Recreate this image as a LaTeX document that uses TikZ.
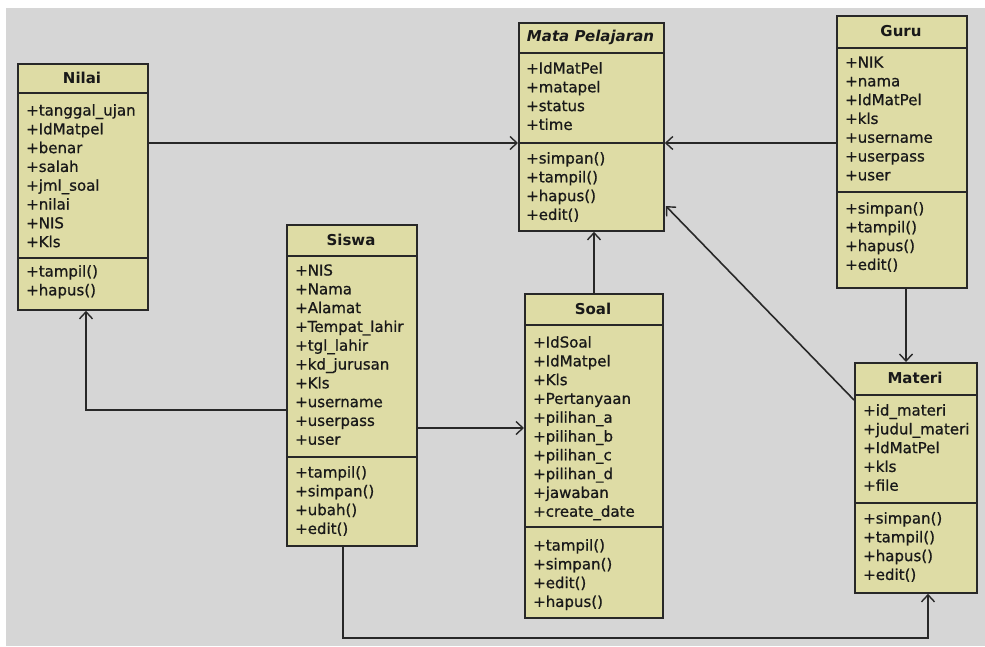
\documentclass[tikz,border=0pt]{standalone}
\usepackage{fontspec}
\setmainfont{DejaVu Sans}
\newfontfamily\memberfont{DejaVu Sans}[FakeBold=0.9]
\usetikzlibrary{arrows.meta,calc}

\definecolor{canvas}{RGB}{214,214,214}
\definecolor{classfill}{RGB}{222,220,165}
\definecolor{ink}{RGB}{40,40,40}
\definecolor{txt}{RGB}{25,25,25}

\tikzset{
  classbox/.style={draw=ink, fill=classfill, line width=1.8pt, inner sep=0pt, anchor=north west},
  divider/.style={draw=ink, line width=1.8pt},
  classname/.style={font=\fontsize{15}{16}\selectfont\bfseries, text=txt, inner sep=0pt},
  member/.style={font=\memberfont\fontsize{15}{16}\selectfont, text=txt, anchor=base west, inner sep=0pt},
  conn/.style={draw=ink, line width=1.6pt, -{Straight Barb[length=7pt,width=13pt,line width=1.4pt]}},
}

% one compartment of members: name prefix, x, centre y of first line, list
\newcommand\memberlist[4]{%
  \foreach \m [count=\k from 0] in {#4}
    \node[member] (#1-\k) at (#2,{#3+5.5+18.8*\k}) {\m};}

\begin{document}
\begin{tikzpicture}[x=1pt,y=-1pt]
\fill[white] (0,0) rectangle (985,646);
\fill[canvas] (6,8) rectangle (985,646);
\useasboundingbox (0,0) rectangle (985,646);

% ---- Nilai
\node[classbox, minimum width=130pt, minimum height=246pt] (nilai) at (17,63) {};
\draw[divider] (17,93) -- (147,93);
\draw[divider] (17,258) -- (147,258);
\node[classname] (nilai-t) at (82,78) {Nilai};
\memberlist{nilai-a}{26}{110}{+tanggal\_ujan,+IdMatpel,+benar,+salah,+jml\_soal,+nilai,+NIS,+Kls}
\memberlist{nilai-m}{26}{271}{+tampil(),+hapus()}

% ---- Mata Pelajaran
\node[classbox, minimum width=145pt, minimum height=208pt] (mp) at (518,22) {};
\draw[divider] (518,53) -- (663,53);
\draw[divider] (518,143) -- (663,143);
\node[classname, font=\fontsize{15}{16}\selectfont\bfseries\itshape] (mp-t) at (590.5,37.5) {Mata Pelajaran};
\memberlist{mp-a}{526}{68}{+IdMatPel,+matapel,+status,+time}
\memberlist{mp-m}{526}{158}{+simpan(),+tampil(),+hapus(),+edit()}

% ---- Guru
\node[classbox, minimum width=130pt, minimum height=272pt] (guru) at (836,15) {};
\draw[divider] (836,48) -- (966,48);
\draw[divider] (836,192) -- (966,192);
\node[classname] (guru-t) at (901,31.5) {Guru};
\memberlist{guru-a}{845}{62}{+NIK,+nama,+IdMatPel,+kls,+username,+userpass,+user}
\memberlist{guru-m}{845}{208}{+simpan(),+tampil(),+hapus(),+edit()}

% ---- Siswa
\node[classbox, minimum width=130pt, minimum height=321pt] (siswa) at (286,224) {};
\draw[divider] (286,256) -- (416,256);
\draw[divider] (286,457) -- (416,457);
\node[classname] (siswa-t) at (351,240) {Siswa};
\memberlist{siswa-a}{295}{270}{+NIS,+Nama,+Alamat,+Tempat\_lahir,+tgl\_lahir,+kd\_jurusan,+Kls,+username,+userpass,+user}
\memberlist{siswa-m}{295}{472}{+tampil(),+simpan(),+ubah(),+edit()}

% ---- Soal
\node[classbox, minimum width=138pt, minimum height=324pt] (soal) at (524,293) {};
\draw[divider] (524,325) -- (662,325);
\draw[divider] (524,527) -- (662,527);
\node[classname] (soal-t) at (593,309) {Soal};
\memberlist{soal-a}{533}{342}{+IdSoal,+IdMatpel,+Kls,+Pertanyaan,+pilihan\_a,+pilihan\_b,+pilihan\_c,+pilihan\_d,+jawaban,+create\_date}
\memberlist{soal-m}{533}{545}{+tampil(),+simpan(),+edit(),+hapus()}

% ---- Materi
\node[classbox, minimum width=122pt, minimum height=230pt] (materi) at (854,362) {};
\draw[divider] (854,395) -- (976,395);
\draw[divider] (854,503) -- (976,503);
\node[classname] (materi-t) at (915,378) {Materi};
\memberlist{materi-a}{863}{410}{+id\_materi,+judul\_materi,+IdMatPel,+kls,+file}
\memberlist{materi-m}{863}{518}{+simpan(),+tampil(),+hapus(),+edit()}

% ---- associations
\draw[conn] ($(nilai.north east)+(0,80)$) coordinate (c1) -- (c1 -| mp.west);
\draw[conn] (guru.west |- c1) -- (c1 -| mp.east);
\draw[conn] ($(soal.north west)+(70,0)$) coordinate (c3) -- (c3 |- mp.south);
\draw[conn] ($(materi.north west)+(0,38)$) -- ($(mp.north east)+(1,184)$);
\draw[conn] ($(guru.south west)+(70,0)$) coordinate (c5) -- (c5 |- materi.north);
\draw[conn] ($(siswa.north west)+(0,186)$) -| ($(nilai.south west)+(69,0)$);
\draw[conn] ($(siswa.north east)+(0,204)$) coordinate (c7) -- (c7 -| soal.west);
\coordinate (c8a) at ($(siswa.south west)+(57,0)$);
\coordinate (c8b) at ($(materi.south west)+(74,0)$);
\coordinate (c8y) at (0,638);
\draw[conn] (c8a) -- (c8a |- c8y) -- (c8b |- c8y) -- (c8b);
\end{tikzpicture}
\end{document}
